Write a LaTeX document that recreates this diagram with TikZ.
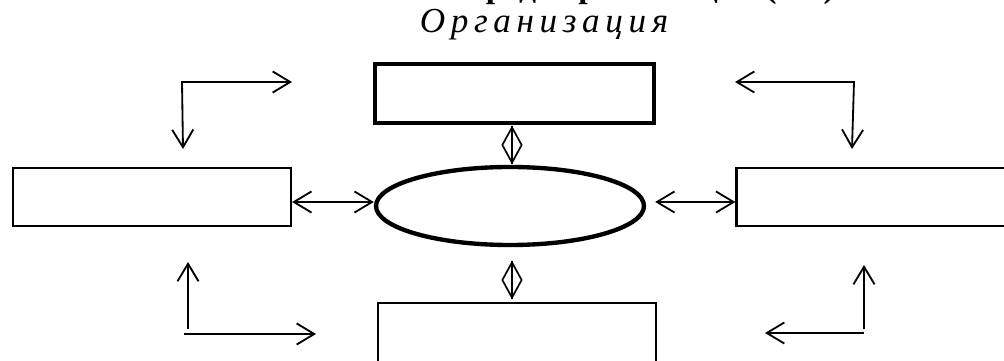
\documentclass[tikz,border=0pt]{standalone}
\usepackage{fontspec}
\setmainfont{Liberation Serif}
\usetikzlibrary{arrows.meta,shapes.geometric}
\begin{document}
\begin{tikzpicture}[
    bloc/.style={draw, line width=1.6pt, minimum width=6.95cm, minimum height=1.45cm, inner sep=0pt},
    bloctop/.style={bloc, line width=3.1pt, minimum width=6.975cm, minimum height=1.475cm},
    blocbas/.style={bloc, line width=1.9pt, minimum height=1.925cm},
    losange/.style={draw, diamond, line width=1.2pt, minimum width=0.5cm, minimum height=0.9cm, inner sep=0pt},
    fl/.style={line width=1.3pt, -{Straight Barb[length=12.5pt,width=15pt]}},
    dfl/.style={line width=1.3pt, {Straight Barb[length=12.5pt,width=15pt]}-{Straight Barb[length=12.5pt,width=15pt]}}]
  \useasboundingbox (0,0) rectangle (25.1,9);
  % Titre (coupe en haut)
  \node[anchor=base, font=\fontsize{24}{28}\selectfont\bfseries] (titre) at (14.45,9.06) {Внешняя среда организации (ВС)};
  \node[anchor=base, font=\fontsize{25}{30}\selectfont\itshape\addfontfeatures{LetterSpace=16}] (orgtxt) at (13.6,8.175) {Организация};
  % Blocs
  \node[bloctop] (haut) at (12.8625,6.6625) {};
  \node[draw, ellipse, line width=3.1pt, minimum width=6.7cm, minimum height=1.95cm, inner sep=0pt] (org) at (12.75,3.85) {};
  \node[blocbas, minimum width=6.95cm] (bas) at (12.925,0.4625) {};
  \node[bloc] (gauche) at (3.8,4.075) {};
  \node[bloc, minimum width=7.0875cm] (droite) at (21.956,4.075) {};
  % Losanges
  \node[losange] (los1) at (12.8,5.375) {};
  \node[losange] (los2) at (12.8,2.0) {};
  \draw[line width=1.2pt] (los1.north) -- (los1.south);
  \draw[line width=1.2pt] (los2.north) -- (los2.south);
  % Fleches horizontales
  \draw[dfl] (gauche.east |- 0,3.95) -- (org.west |- 0,3.95);
  \draw[dfl, shorten <=6.4pt] (org.east |- 0,3.95) -- (droite.west |- 0,3.95);
  % Fleches en L
  \coordinate (hgc) at (4.55,6.95);
  \coordinate (hgd) at (7.3,6.95);
  \coordinate (hgb) at (4.575,5.275);
  \draw[dfl] (hgd) -- (hgc) -- (hgb);
  \coordinate (hdc) at (21.35,6.95);
  \coordinate (hdg) at (18.375,6.95);
  \coordinate (hdb) at (21.3,5.275);
  \draw[dfl] (hdg) -- (hdc) -- (hdb);
  \coordinate (bgv) at (4.7,0.775);
  \coordinate (bgh) at (4.7,2.45);
  \coordinate (bgc) at (4.6,0.65);
  \coordinate (bgd) at (7.9,0.65);
  \draw[fl] (bgv) -- (bgh);
  \draw[fl] (bgc) -- (bgd);
  \coordinate (bdv) at (21.6,0.775);
  \coordinate (bdh) at (21.6,2.375);
  \coordinate (bdc) at (21.6,0.675);
  \coordinate (bdg) at (19.125,0.675);
  \draw[fl] (bdv) -- (bdh);
  \draw[fl] (bdc) -- (bdg);
\end{tikzpicture}
\end{document}
